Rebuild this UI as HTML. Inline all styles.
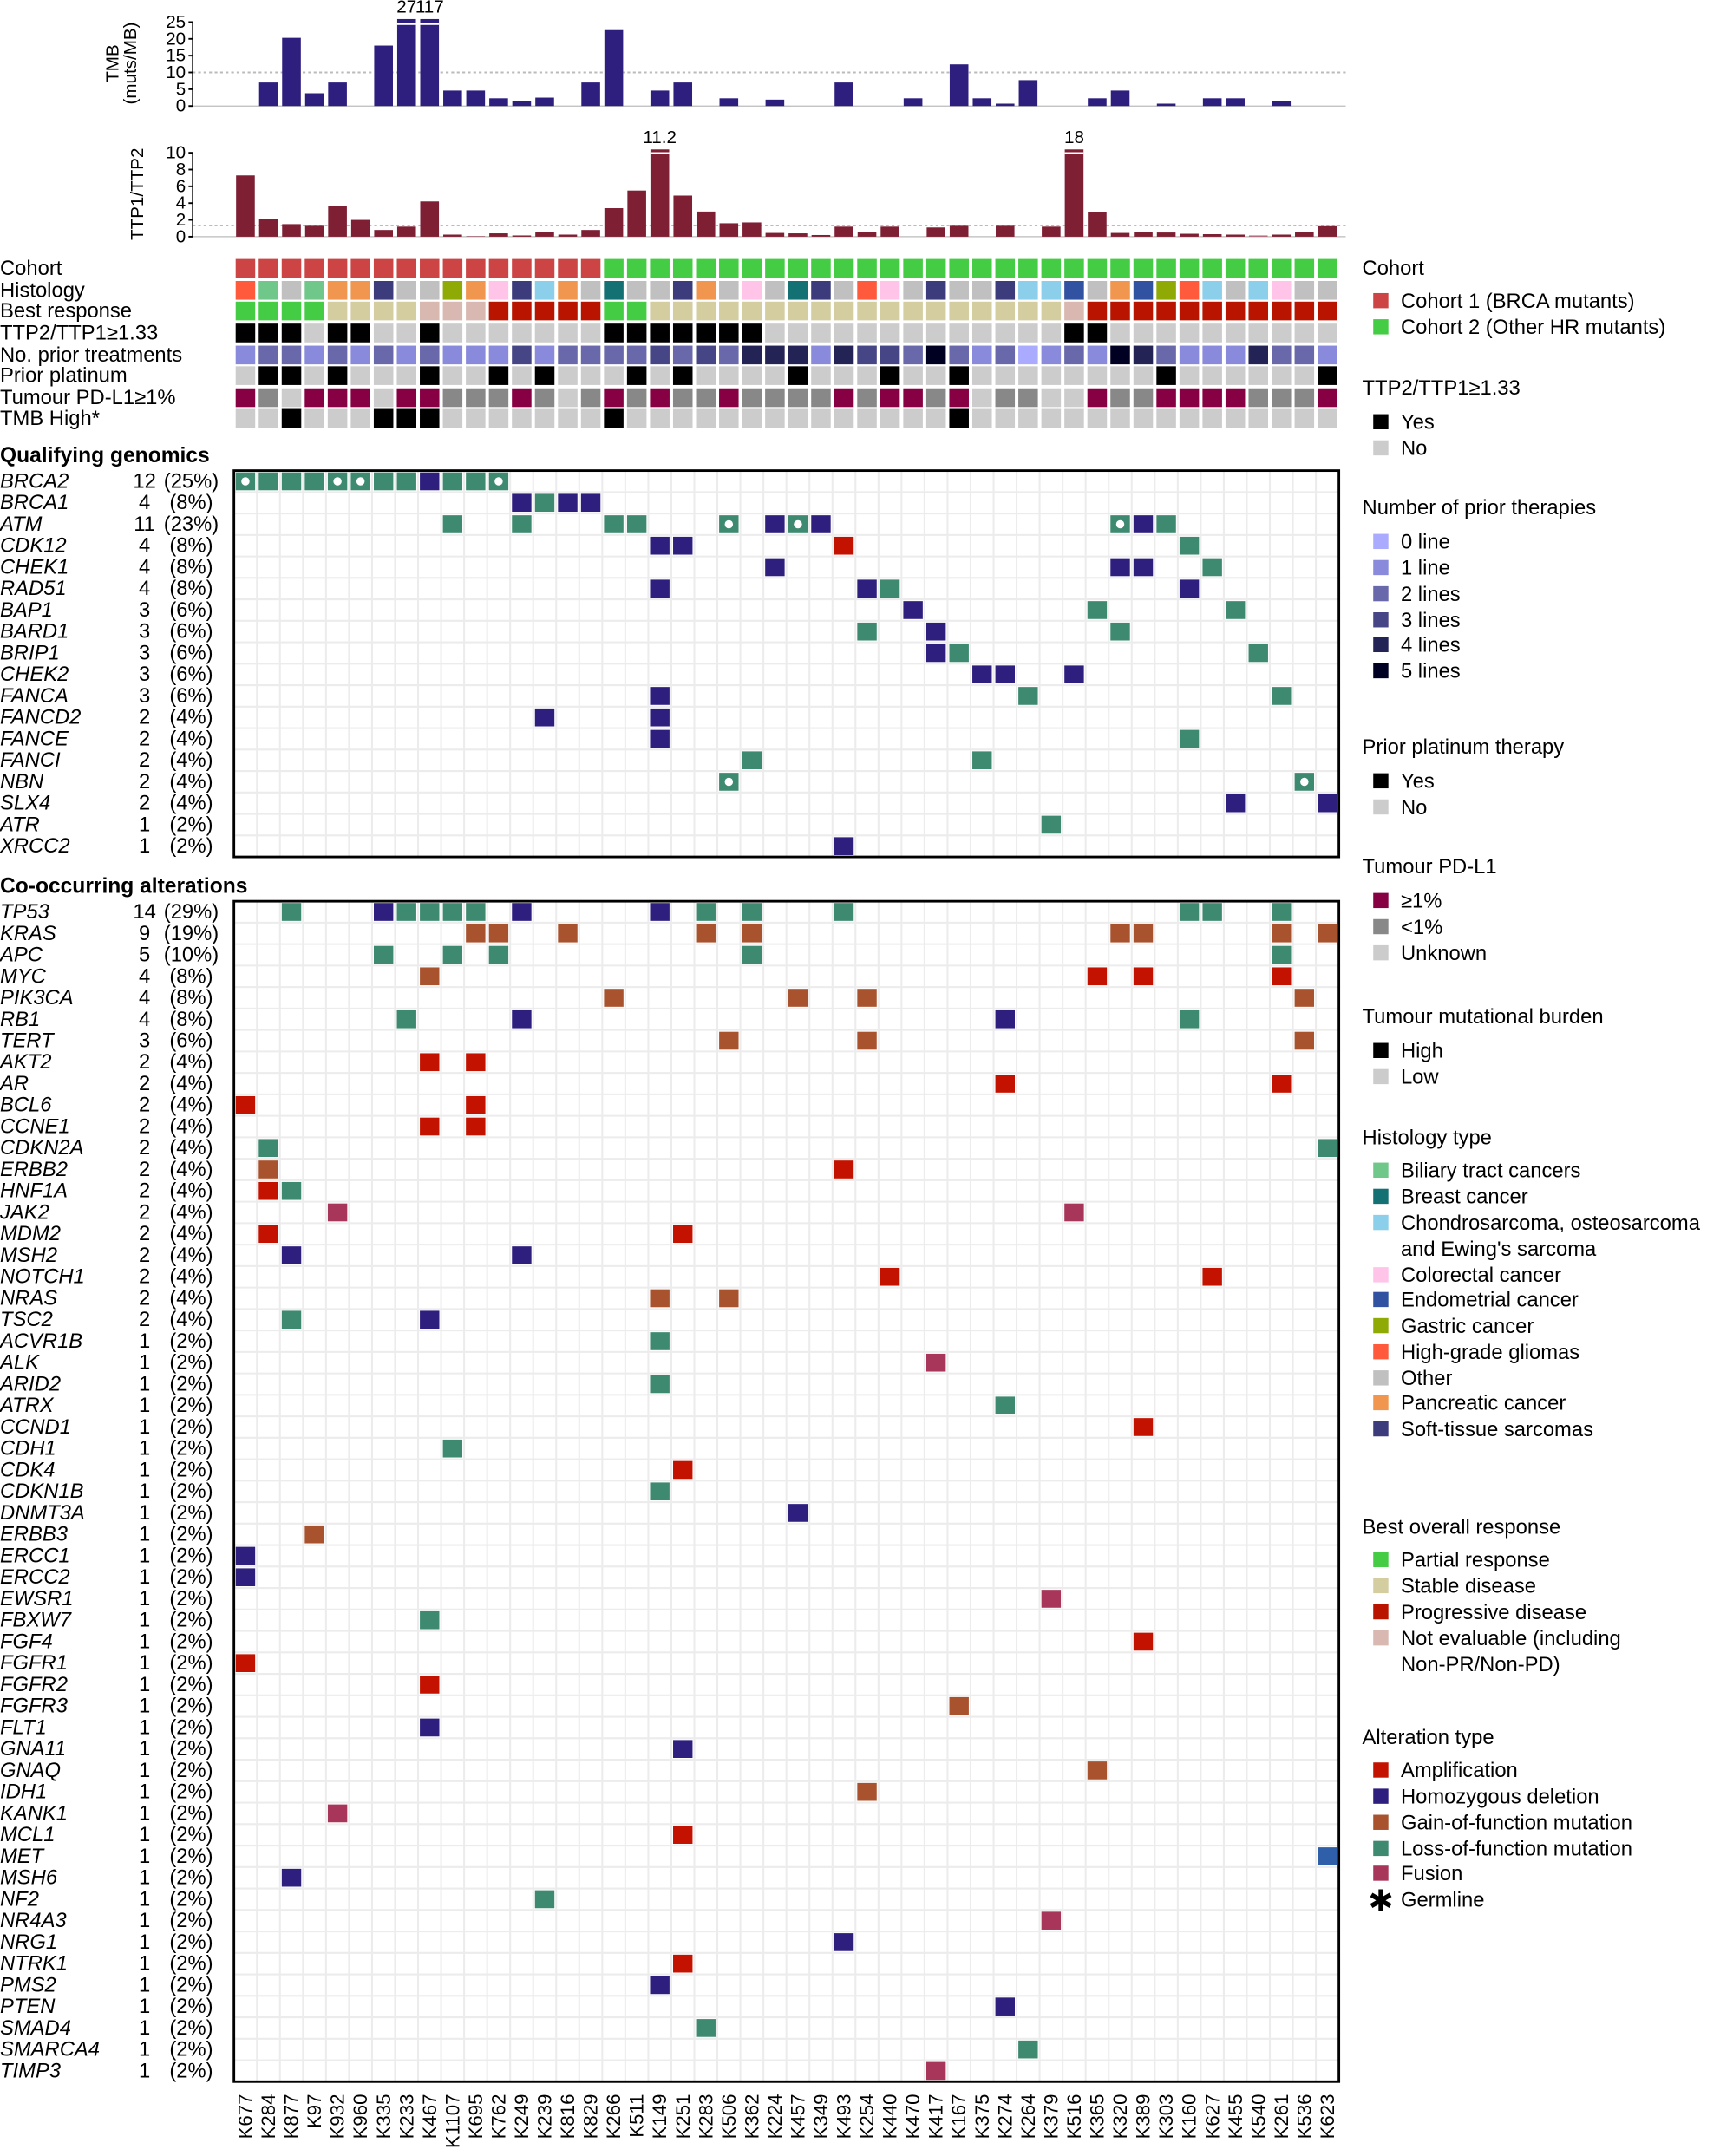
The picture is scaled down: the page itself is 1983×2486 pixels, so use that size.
<!DOCTYPE html>
<html><head><meta charset="utf-8">
<style>
html,body{margin:0;padding:0;background:#fff;}
svg{display:block;}
text{font-family:"Liberation Sans",sans-serif;fill:#000;}
.lab{font-size:15px;}
.gi{font-size:15px;font-style:italic;}
.tk{font-size:13px;}
.sm{font-size:14px;}
.hd{font-size:15.5px;font-weight:bold;}
</style></head>
<body>
<svg id="s" width="1983" height="2486" viewBox="0 0 1250 1567" xmlns="http://www.w3.org/2000/svg">
<g id="shapes"></g>

<text class="tk" transform="translate(86,46) rotate(-90)" text-anchor="middle">TMB</text>
<text class="tk" transform="translate(99,46) rotate(-90)" text-anchor="middle">(muts/MB)</text>
<g class="tk" text-anchor="end" dominant-baseline="central">
<text x="135" y="77">0</text><text x="135" y="64.8">5</text><text x="135" y="52.6">10</text>
<text x="135" y="40.4">15</text><text x="135" y="28.2">20</text><text x="135" y="16">25</text>
</g>
<text class="tk" x="295.5" y="9" text-anchor="middle" font-size="11">27</text>
<text class="tk" x="312.2" y="9" text-anchor="middle" font-size="11">117</text>
<text class="tk" transform="translate(104,141) rotate(-90)" text-anchor="middle">TTP1/TTP2</text>
<g class="tk" text-anchor="end" dominant-baseline="central">
<text x="135" y="172">0</text><text x="135" y="159.8">2</text><text x="135" y="147.6">4</text>
<text x="135" y="135.4">6</text><text x="135" y="123.2">8</text><text x="135" y="111">10</text>
</g>
<text class="tk" x="479.5" y="104" text-anchor="middle" font-size="11">11.2</text>
<text class="tk" x="780.7" y="104" text-anchor="middle" font-size="11">18</text>

<g class="lab" dominant-baseline="central">
<text x="0" y="195">Cohort</text>
<text x="0" y="211">Histology</text>
<text x="0" y="226">Best response</text>
<text x="0" y="242">TTP2/TTP1≥1.33</text>
<text x="0" y="258">No. prior treatments</text>
<text x="0" y="273">Prior platinum</text>
<text x="0" y="289">Tumour PD-L1≥1%</text>
<text x="0" y="304">TMB High*</text>
</g>
<text class="hd" x="0" y="336">Qualifying genomics</text>
<text class="hd" x="0" y="649">Co-occurring alterations</text>

<g dominant-baseline="central">
<g class="gi">
<text x="0" y="349.8">BRCA2</text><text x="0" y="365.4">BRCA1</text><text x="0" y="381">ATM</text><text x="0" y="396.6">CDK12</text><text x="0" y="412.2">CHEK1</text><text x="0" y="427.8">RAD51</text><text x="0" y="443.4">BAP1</text><text x="0" y="459">BARD1</text><text x="0" y="474.6">BRIP1</text><text x="0" y="490.2">CHEK2</text><text x="0" y="505.8">FANCA</text><text x="0" y="521.4">FANCD2</text><text x="0" y="537">FANCE</text><text x="0" y="552.6">FANCI</text><text x="0" y="568.2">NBN</text><text x="0" y="583.8">SLX4</text><text x="0" y="599.4">ATR</text><text x="0" y="615">XRCC2</text>
</g>
<g class="lab" text-anchor="middle">
<text x="105" y="349.8">12</text><text x="139" y="349.8">(25%)</text>
<text x="105" y="365.4">4</text><text x="139" y="365.4">(8%)</text>
<text x="105" y="381">11</text><text x="139" y="381">(23%)</text>
<text x="105" y="396.6">4</text><text x="139" y="396.6">(8%)</text>
<text x="105" y="412.2">4</text><text x="139" y="412.2">(8%)</text>
<text x="105" y="427.8">4</text><text x="139" y="427.8">(8%)</text>
<text x="105" y="443.4">3</text><text x="139" y="443.4">(6%)</text>
<text x="105" y="459">3</text><text x="139" y="459">(6%)</text>
<text x="105" y="474.6">3</text><text x="139" y="474.6">(6%)</text>
<text x="105" y="490.2">3</text><text x="139" y="490.2">(6%)</text>
<text x="105" y="505.8">3</text><text x="139" y="505.8">(6%)</text>
<text x="105" y="521.4">2</text><text x="139" y="521.4">(4%)</text>
<text x="105" y="537">2</text><text x="139" y="537">(4%)</text>
<text x="105" y="552.6">2</text><text x="139" y="552.6">(4%)</text>
<text x="105" y="568.2">2</text><text x="139" y="568.2">(4%)</text>
<text x="105" y="583.8">2</text><text x="139" y="583.8">(4%)</text>
<text x="105" y="599.4">1</text><text x="139" y="599.4">(2%)</text>
<text x="105" y="615">1</text><text x="139" y="615">(2%)</text>
</g>
</g>

<g dominant-baseline="central">
<g class="gi">
<text x="0" y="662.8">TP53</text><text x="0" y="678.4">KRAS</text><text x="0" y="694">APC</text><text x="0" y="709.6">MYC</text><text x="0" y="725.2">PIK3CA</text><text x="0" y="740.8">RB1</text><text x="0" y="756.4">TERT</text><text x="0" y="772">AKT2</text><text x="0" y="787.6">AR</text><text x="0" y="803.2">BCL6</text><text x="0" y="818.8">CCNE1</text><text x="0" y="834.4">CDKN2A</text><text x="0" y="850">ERBB2</text><text x="0" y="865.6">HNF1A</text><text x="0" y="881.2">JAK2</text><text x="0" y="896.8">MDM2</text><text x="0" y="912.4">MSH2</text><text x="0" y="928">NOTCH1</text><text x="0" y="943.6">NRAS</text><text x="0" y="959.2">TSC2</text><text x="0" y="974.8">ACVR1B</text><text x="0" y="990.4">ALK</text><text x="0" y="1006">ARID2</text><text x="0" y="1021.6">ATRX</text><text x="0" y="1037.2">CCND1</text><text x="0" y="1052.8">CDH1</text><text x="0" y="1068.4">CDK4</text><text x="0" y="1084">CDKN1B</text><text x="0" y="1099.6">DNMT3A</text><text x="0" y="1115.2">ERBB3</text><text x="0" y="1130.8">ERCC1</text><text x="0" y="1146.4">ERCC2</text><text x="0" y="1162">EWSR1</text><text x="0" y="1177.6">FBXW7</text><text x="0" y="1193.2">FGF4</text><text x="0" y="1208.8">FGFR1</text><text x="0" y="1224.4">FGFR2</text><text x="0" y="1240">FGFR3</text><text x="0" y="1255.6">FLT1</text><text x="0" y="1271.2">GNA11</text><text x="0" y="1286.8">GNAQ</text><text x="0" y="1302.4">IDH1</text><text x="0" y="1318">KANK1</text><text x="0" y="1333.6">MCL1</text><text x="0" y="1349.2">MET</text><text x="0" y="1364.8">MSH6</text><text x="0" y="1380.4">NF2</text><text x="0" y="1396">NR4A3</text><text x="0" y="1411.6">NRG1</text><text x="0" y="1427.2">NTRK1</text><text x="0" y="1442.8">PMS2</text><text x="0" y="1458.4">PTEN</text><text x="0" y="1474">SMAD4</text><text x="0" y="1489.6">SMARCA4</text><text x="0" y="1505.2">TIMP3</text>
</g>
<g class="lab" text-anchor="middle">
<text x="105" y="662.8">14</text><text x="139" y="662.8">(29%)</text>
<text x="105" y="678.4">9</text><text x="139" y="678.4">(19%)</text>
<text x="105" y="694">5</text><text x="139" y="694">(10%)</text>
<text x="105" y="709.6">4</text><text x="139" y="709.6">(8%)</text>
<text x="105" y="725.2">4</text><text x="139" y="725.2">(8%)</text>
<text x="105" y="740.8">4</text><text x="139" y="740.8">(8%)</text>
<text x="105" y="756.4">3</text><text x="139" y="756.4">(6%)</text>
<text x="105" y="772">2</text><text x="139" y="772">(4%)</text>
<text x="105" y="787.6">2</text><text x="139" y="787.6">(4%)</text>
<text x="105" y="803.2">2</text><text x="139" y="803.2">(4%)</text>
<text x="105" y="818.8">2</text><text x="139" y="818.8">(4%)</text>
<text x="105" y="834.4">2</text><text x="139" y="834.4">(4%)</text>
<text x="105" y="850">2</text><text x="139" y="850">(4%)</text>
<text x="105" y="865.6">2</text><text x="139" y="865.6">(4%)</text>
<text x="105" y="881.2">2</text><text x="139" y="881.2">(4%)</text>
<text x="105" y="896.8">2</text><text x="139" y="896.8">(4%)</text>
<text x="105" y="912.4">2</text><text x="139" y="912.4">(4%)</text>
<text x="105" y="928">2</text><text x="139" y="928">(4%)</text>
<text x="105" y="943.6">2</text><text x="139" y="943.6">(4%)</text>
<text x="105" y="959.2">2</text><text x="139" y="959.2">(4%)</text>
<text x="105" y="974.8">1</text><text x="139" y="974.8">(2%)</text>
<text x="105" y="990.4">1</text><text x="139" y="990.4">(2%)</text>
<text x="105" y="1006">1</text><text x="139" y="1006">(2%)</text>
<text x="105" y="1021.6">1</text><text x="139" y="1021.6">(2%)</text>
<text x="105" y="1037.2">1</text><text x="139" y="1037.2">(2%)</text>
<text x="105" y="1052.8">1</text><text x="139" y="1052.8">(2%)</text>
<text x="105" y="1068.4">1</text><text x="139" y="1068.4">(2%)</text>
<text x="105" y="1084">1</text><text x="139" y="1084">(2%)</text>
<text x="105" y="1099.6">1</text><text x="139" y="1099.6">(2%)</text>
<text x="105" y="1115.2">1</text><text x="139" y="1115.2">(2%)</text>
<text x="105" y="1130.8">1</text><text x="139" y="1130.8">(2%)</text>
<text x="105" y="1146.4">1</text><text x="139" y="1146.4">(2%)</text>
<text x="105" y="1162">1</text><text x="139" y="1162">(2%)</text>
<text x="105" y="1177.6">1</text><text x="139" y="1177.6">(2%)</text>
<text x="105" y="1193.2">1</text><text x="139" y="1193.2">(2%)</text>
<text x="105" y="1208.8">1</text><text x="139" y="1208.8">(2%)</text>
<text x="105" y="1224.4">1</text><text x="139" y="1224.4">(2%)</text>
<text x="105" y="1240">1</text><text x="139" y="1240">(2%)</text>
<text x="105" y="1255.6">1</text><text x="139" y="1255.6">(2%)</text>
<text x="105" y="1271.2">1</text><text x="139" y="1271.2">(2%)</text>
<text x="105" y="1286.8">1</text><text x="139" y="1286.8">(2%)</text>
<text x="105" y="1302.4">1</text><text x="139" y="1302.4">(2%)</text>
<text x="105" y="1318">1</text><text x="139" y="1318">(2%)</text>
<text x="105" y="1333.6">1</text><text x="139" y="1333.6">(2%)</text>
<text x="105" y="1349.2">1</text><text x="139" y="1349.2">(2%)</text>
<text x="105" y="1364.8">1</text><text x="139" y="1364.8">(2%)</text>
<text x="105" y="1380.4">1</text><text x="139" y="1380.4">(2%)</text>
<text x="105" y="1396">1</text><text x="139" y="1396">(2%)</text>
<text x="105" y="1411.6">1</text><text x="139" y="1411.6">(2%)</text>
<text x="105" y="1427.2">1</text><text x="139" y="1427.2">(2%)</text>
<text x="105" y="1442.8">1</text><text x="139" y="1442.8">(2%)</text>
<text x="105" y="1458.4">1</text><text x="139" y="1458.4">(2%)</text>
<text x="105" y="1474">1</text><text x="139" y="1474">(2%)</text>
<text x="105" y="1489.6">1</text><text x="139" y="1489.6">(2%)</text>
<text x="105" y="1505.2">1</text><text x="139" y="1505.2">(2%)</text>
</g>
</g>

<g class="sm" text-anchor="end" dominant-baseline="central">
<text transform="translate(178.4,1522) rotate(-90)">K677</text>
<text transform="translate(195.1,1522) rotate(-90)">K284</text>
<text transform="translate(211.8,1522) rotate(-90)">K877</text>
<text transform="translate(228.6,1522) rotate(-90)">K97</text>
<text transform="translate(245.3,1522) rotate(-90)">K932</text>
<text transform="translate(262.0,1522) rotate(-90)">K960</text>
<text transform="translate(278.8,1522) rotate(-90)">K335</text>
<text transform="translate(295.5,1522) rotate(-90)">K233</text>
<text transform="translate(312.2,1522) rotate(-90)">K467</text>
<text transform="translate(328.9,1522) rotate(-90)">K1107</text>
<text transform="translate(345.7,1522) rotate(-90)">K695</text>
<text transform="translate(362.4,1522) rotate(-90)">K762</text>
<text transform="translate(379.1,1522) rotate(-90)">K249</text>
<text transform="translate(395.9,1522) rotate(-90)">K239</text>
<text transform="translate(412.6,1522) rotate(-90)">K816</text>
<text transform="translate(429.3,1522) rotate(-90)">K829</text>
<text transform="translate(446.1,1522) rotate(-90)">K266</text>
<text transform="translate(462.8,1522) rotate(-90)">K511</text>
<text transform="translate(479.5,1522) rotate(-90)">K149</text>
<text transform="translate(496.3,1522) rotate(-90)">K251</text>
<text transform="translate(513.0,1522) rotate(-90)">K283</text>
<text transform="translate(529.7,1522) rotate(-90)">K506</text>
<text transform="translate(546.5,1522) rotate(-90)">K362</text>
<text transform="translate(563.2,1522) rotate(-90)">K224</text>
<text transform="translate(579.9,1522) rotate(-90)">K457</text>
<text transform="translate(596.6,1522) rotate(-90)">K349</text>
<text transform="translate(613.4,1522) rotate(-90)">K493</text>
<text transform="translate(630.1,1522) rotate(-90)">K254</text>
<text transform="translate(646.8,1522) rotate(-90)">K440</text>
<text transform="translate(663.6,1522) rotate(-90)">K470</text>
<text transform="translate(680.3,1522) rotate(-90)">K417</text>
<text transform="translate(697.0,1522) rotate(-90)">K167</text>
<text transform="translate(713.8,1522) rotate(-90)">K375</text>
<text transform="translate(730.5,1522) rotate(-90)">K274</text>
<text transform="translate(747.2,1522) rotate(-90)">K264</text>
<text transform="translate(764.0,1522) rotate(-90)">K379</text>
<text transform="translate(780.7,1522) rotate(-90)">K516</text>
<text transform="translate(797.4,1522) rotate(-90)">K365</text>
<text transform="translate(814.2,1522) rotate(-90)">K320</text>
<text transform="translate(830.9,1522) rotate(-90)">K389</text>
<text transform="translate(847.6,1522) rotate(-90)">K303</text>
<text transform="translate(864.3,1522) rotate(-90)">K160</text>
<text transform="translate(881.1,1522) rotate(-90)">K627</text>
<text transform="translate(897.8,1522) rotate(-90)">K455</text>
<text transform="translate(914.5,1522) rotate(-90)">K540</text>
<text transform="translate(931.3,1522) rotate(-90)">K261</text>
<text transform="translate(948.0,1522) rotate(-90)">K536</text>
<text transform="translate(964.7,1522) rotate(-90)">K623</text>
</g>

<g class="lab" dominant-baseline="central">
<text x="990" y="195">Cohort</text>
<rect x="998" y="213" width="11" height="11" fill="#cc4444"/><text x="1018" y="219">Cohort 1 (BRCA mutants)</text>
<rect x="998" y="232" width="11" height="11" fill="#44cc44"/><text x="1018" y="238">Cohort 2 (Other HR mutants)</text>
<text x="990" y="282">TTP2/TTP1≥1.33</text>
<rect x="998" y="301" width="11" height="11" fill="#000"/><text x="1018" y="307">Yes</text>
<rect x="998" y="320" width="11" height="11" fill="#cccccc"/><text x="1018" y="326">No</text>
<text x="990" y="369">Number of prior therapies</text>
<rect x="998" y="388" width="11" height="11" fill="#aaaaff"/><text x="1018" y="394">0 line</text>
<rect x="998" y="407" width="11" height="11" fill="#8a8adc"/><text x="1018" y="413">1 line</text>
<rect x="998" y="426" width="11" height="11" fill="#6868aa"/><text x="1018" y="432">2 lines</text>
<rect x="998" y="445" width="11" height="11" fill="#464686"/><text x="1018" y="451">3 lines</text>
<rect x="998" y="463" width="11" height="11" fill="#232355"/><text x="1018" y="469">4 lines</text>
<rect x="998" y="482" width="11" height="11" fill="#000022"/><text x="1018" y="488">5 lines</text>
<text x="990" y="543">Prior platinum therapy</text>
<rect x="998" y="562" width="11" height="11" fill="#000"/><text x="1018" y="568">Yes</text>
<rect x="998" y="581" width="11" height="11" fill="#cccccc"/><text x="1018" y="587">No</text>
<text x="990" y="630">Tumour PD-L1</text>
<rect x="998" y="649" width="11" height="11" fill="#880044"/><text x="1018" y="655">≥1%</text>
<rect x="998" y="668" width="11" height="11" fill="#888888"/><text x="1018" y="674">&lt;1%</text>
<rect x="998" y="687" width="11" height="11" fill="#cccccc"/><text x="1018" y="693">Unknown</text>
<text x="990" y="739">Tumour mutational burden</text>
<rect x="998" y="758" width="11" height="11" fill="#000"/><text x="1018" y="764">High</text>
<rect x="998" y="777" width="11" height="11" fill="#cccccc"/><text x="1018" y="783">Low</text>
<text x="990" y="827">Histology type</text>
<rect x="998" y="845" width="11" height="11" fill="#70c78a"/><text x="1018" y="851">Biliary tract cancers</text>
<rect x="998" y="864" width="11" height="11" fill="#137073"/><text x="1018" y="870">Breast cancer</text>
<rect x="998" y="883" width="11" height="11" fill="#8ccfea"/><text x="1018" y="889">Chondrosarcoma, osteosarcoma</text>
<text x="1018" y="908">and Ewing's sarcoma</text>
<rect x="998" y="921" width="11" height="11" fill="#ffc4e8"/><text x="1018" y="927">Colorectal cancer</text>
<rect x="998" y="939" width="11" height="11" fill="#3152a0"/><text x="1018" y="945">Endometrial cancer</text>
<rect x="998" y="958" width="11" height="11" fill="#8faa05"/><text x="1018" y="964">Gastric cancer</text>
<rect x="998" y="977" width="11" height="11" fill="#ff5a3c"/><text x="1018" y="983">High-grade gliomas</text>
<rect x="998" y="996" width="11" height="11" fill="#c0c0c0"/><text x="1018" y="1002">Other</text>
<rect x="998" y="1014" width="11" height="11" fill="#f0964e"/><text x="1018" y="1020">Pancreatic cancer</text>
<rect x="998" y="1033" width="11" height="11" fill="#3c3c7c"/><text x="1018" y="1039">Soft-tissue sarcomas</text>
<text x="990" y="1110">Best overall response</text>
<rect x="998" y="1128" width="11" height="11" fill="#44cc44"/><text x="1018" y="1134">Partial response</text>
<rect x="998" y="1147" width="11" height="11" fill="#d3cda0"/><text x="1018" y="1153">Stable disease</text>
<rect x="998" y="1166" width="11" height="11" fill="#b81400"/><text x="1018" y="1172">Progressive disease</text>
<rect x="998" y="1185" width="11" height="11" fill="#d8b8b0"/><text x="1018" y="1191">Not evaluable (including</text>
<text x="1018" y="1210">Non-PR/Non-PD)</text>
<text x="990" y="1263">Alteration type</text>
<rect x="998" y="1281" width="11" height="11" fill="#c41200"/><text x="1018" y="1287">Amplification</text>
<rect x="998" y="1300" width="11" height="11" fill="#2e1f7f"/><text x="1018" y="1306">Homozygous deletion</text>
<rect x="998" y="1319" width="11" height="11" fill="#a9532e"/><text x="1018" y="1325">Gain-of-function mutation</text>
<rect x="998" y="1338" width="11" height="11" fill="#3d8a70"/><text x="1018" y="1344">Loss-of-function mutation</text>
<rect x="998" y="1356" width="11" height="11" fill="#a8365a"/><text x="1018" y="1362">Fusion</text>
<text x="1003.5" y="1382" text-anchor="middle" font-size="22">✱</text><text x="1018" y="1381">Germline</text>
</g>
</svg>
<script>
(function(){
var NS="http://www.w3.org/2000/svg",g=document.getElementById("shapes");
function el(t,a){var e=document.createElementNS(NS,t);for(var k in a)e.setAttribute(k,a[k]);g.appendChild(e);return e;}
var X0=170,CW=16.73,RH=15.6;
function cx(i){return X0+(i+0.5)*CW;}
var tmb={1:7,2:20.3,3:3.8,4:7,6:18,7:27,8:117,9:4.6,10:4.6,11:2.3,12:1.4,13:2.5,15:7,16:22.6,18:4.6,19:7,21:2.3,23:1.9,26:7,29:2.3,31:12.4,32:2.3,33:0.7,34:7.7,37:2.3,38:4.6,40:0.7,42:2.3,43:2.3,45:1.4};
el("line",{x1:140,y1:77,x2:978,y2:77,stroke:"#bbb","stroke-width":0.8});
el("line",{x1:140,y1:52.6,x2:978,y2:52.6,stroke:"#bbb","stroke-width":1.2,"stroke-dasharray":"2,2"});
el("line",{x1:140,y1:16,x2:140,y2:77,stroke:"#000","stroke-width":1});
for(var v=0;v<=25;v+=5){el("line",{x1:137,y1:77-v*2.44,x2:140,y2:77-v*2.44,stroke:"#000","stroke-width":1.2});}
for(var k in tmb){var val=Math.min(tmb[k],25.9),h=val*2.44;el("rect",{x:cx(+k)-6.8,y:77-h,width:13.6,height:h,fill:"#2e1f7f"});
 if(tmb[k]>26){el("rect",{x:cx(+k)-6.8,y:16.8,width:13.6,height:1.3,fill:"#fff"});}}
var ttp=[7.3,2.1,1.5,1.3,3.7,2.0,0.8,1.2,4.2,0.25,0.05,0.4,0.15,0.55,0.25,0.8,3.4,5.5,11.2,4.9,3.0,1.6,1.7,0.45,0.4,0.2,1.2,0.6,1.2,0,1.1,1.3,0,1.3,0,1.2,18,2.9,0.45,0.55,0.5,0.35,0.3,0.25,0.15,0.25,0.55,1.25];
el("line",{x1:140,y1:172,x2:978,y2:172,stroke:"#bbb","stroke-width":0.8});
el("line",{x1:140,y1:163.9,x2:978,y2:163.9,stroke:"#bbb","stroke-width":1.2,"stroke-dasharray":"2,2"});
el("line",{x1:140,y1:111,x2:140,y2:172,stroke:"#000","stroke-width":1});
for(var v=0;v<=10;v+=2){el("line",{x1:137,y1:172-v*6.1,x2:140,y2:172-v*6.1,stroke:"#000","stroke-width":1.2});}
ttp.forEach(function(t,i){if(!t)return;var val=Math.min(t,10.4),h=val*6.1;el("rect",{x:cx(i)-6.8,y:172-h,width:13.6,height:h,fill:i==44?"#b06a7a":"#7e1f33"});
 if(t>10.5){el("rect",{x:cx(i)-6.8,y:110.6,width:13.6,height:1.3,fill:"#fff"});}});
var HC={H:"#ff5a3c",B:"#70c78a",O:"#c0c0c0",P:"#f0964e",S:"#3c3c7c",G:"#8faa05",C:"#ffc4e8",Q:"#8ccfea",R:"#137073",E:"#3152a0"};
var hist="HBOBPPSOOGPCSQPOROOSPOCORSOHCOSOOSQQEOPEGHQOQCOO";
var resp="PPPPSSSSNNNDDDDDPPSSSSSSSSSSSSSSSSSSNDDDDDDDDDDD";
var RC={P:"#44cc44",S:"#d3cda0",D:"#b81400",N:"#d8b8b0"};
var ttpb="111011001000000011111110000000000000110000000000";
var lines=[1,2,2,1,2,1,2,1,2,1,1,1,3,1,2,2,2,2,3,2,3,2,4,4,4,1,4,3,3,2,5,2,1,2,0,1,2,1,5,4,2,1,1,1,4,2,2,1];
var LC=["#aaaaff","#8a8adc","#6868aa","#464686","#232355","#000022"];
var plat=[1,2,4,8,11,13,17,19,24,28,31,40,47];
var pd="PNUPPPUPPNNNPNUNPNPNNPNN"+"NNPNPPNPUNNUUPNNPPPPNNNP";
var PC={P:"#880044",N:"#888888",U:"#cccccc"};
var tmbh=[2,6,7,8,16,31];
var ys=[195,211,226,242,258,273,289,304];
for(var i=0;i!==48;i++){
 var cols=[i>=16?"#44cc44":"#cc4444",HC[hist[i]],RC[resp[i]],ttpb[i]=="1"?"#000":"#cccccc",LC[lines[i]],plat.indexOf(i)>=0?"#000":"#cccccc",PC[pd[i]]||"#cccccc",tmbh.indexOf(i)>=0?"#000":"#cccccc"];
 cols.forEach(function(c,r){el("rect",{x:cx(i)-7.1,y:ys[r]-6.8,width:14.2,height:13.6,fill:c});});
}
function grid(top,rows,data){
 var bot=top+rows*RH;
 for(var i=1;i!==48;i++){el("line",{x1:X0+i*CW,y1:top,x2:X0+i*CW,y2:bot,stroke:"#ececec","stroke-width":1.3});}
 for(var j=1;j!==rows;j++){el("line",{x1:X0,y1:top+j*RH,x2:X0+48*CW,y2:top+j*RH,stroke:"#ececec","stroke-width":1.3});}
 var TC={A:"#c41200",D:"#2e1f7f",G:"#a9532e",L:"#3d8a70",F:"#a8365a",B:"#2e5fa8"};
 data.forEach(function(s,j){ if(!s)return; s.split(",").forEach(function(t){
  var m=t.match(/(\d+)([A-Z])(\*?)/);var c=+m[1];
  el("rect",{x:X0+c*CW+1.3,y:top+j*RH+1.3,width:CW-2.6,height:RH-2.6,fill:TC[m[2]]});
  if(m[3]){el("circle",{cx:cx(c),cy:top+j*RH+RH/2,r:3,fill:"#fff"});}
 });});
 el("rect",{x:X0,y:top,width:48*CW,height:rows*RH,fill:"none",stroke:"#000","stroke-width":1.8});
}
grid(342,18,[
"0L*,1L,2L,3L,4L*,5L*,6L,7L,8D,9L,10L,11L*",
"12D,13L,14D,15D",
"9L,12L,16L,17L,21L*,23D,24L*,25D,38L*,39D,40L",
"18D,19D,26A,41L",
"23D,38D,39D,42L",
"18D,27D,28L,41D",
"29D,37L,43L",
"27L,30D,38L",
"30D,31L,44L",
"32D,33D,36D",
"18D,34L,45L",
"13D,18D",
"18D,41L",
"22L,32L",
"21L*,46L*",
"43D,47D",
"35L",
"26D"]);
grid(655,55,[
"2L,6D,7L,8L,9L,10L,12D,18D,20L,22L,26L,41L,42L,45L",
"10G,11G,14G,20G,22G,38G,39G,45G,47G",
"6L,9L,11L,22L,45L",
"8G,37A,39A,45A",
"16G,24G,27G,46G",
"7L,12D,33D,41L",
"21G,27G,46G",
"8A,10A",
"33A,45A",
"0A,10A",
"8A,10A",
"1L,47L",
"1G,26A",
"1A,2L",
"4F,36F",
"1A,19A",
"2D,12D",
"28A,42A",
"18G,21G",
"2L,8D",
"18L","30F","18L","33L","39A","9L","19A","18L","24D","3G","0D","0D","35F","8L","39A","0A","8A","31G","8D","19D","37G","27G","4F","19A","47B","2D","13L","35F","26D","19A","18D","33D","20L","34L","30F"]);
})();
</script>
</body></html>
